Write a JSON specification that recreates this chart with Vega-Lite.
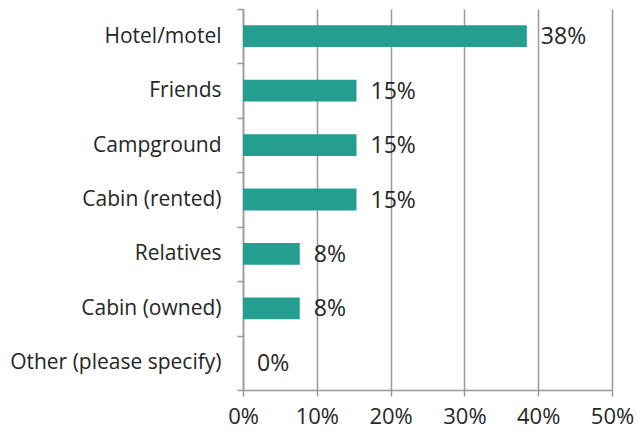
{
  "$schema": "https://vega.github.io/schema/vega-lite/v6.json",
  "width": 369,
  "height": 381,
  "autosize": {"type": "none"},
  "padding": {"left": 243, "top": 9, "right": 24, "bottom": 43},
  "background": "white",
  "config": {
    "view": {"stroke": null},
    "font": "Open Sans",
    "axis": {"labelFont": "Open Sans", "labelColor": "#262626", "labelFontSize": 21, "domainColor": "#999999", "tickColor": "#999999", "domainWidth": 1.5, "tickWidth": 1.5}
  },
  "data": {
    "values": [
      {"place": "Hotel/motel", "pct": 0.3846},
      {"place": "Friends", "pct": 0.1538},
      {"place": "Campground", "pct": 0.1538},
      {"place": "Cabin (rented)", "pct": 0.1538},
      {"place": "Relatives", "pct": 0.0769},
      {"place": "Cabin (owned)", "pct": 0.0769},
      {"place": "Other (please specify)", "pct": 0}
    ]
  },
  "encoding": {
    "y": {
      "field": "place", "type": "nominal", "sort": null, "title": null,
      "scale": {"paddingInner": 0, "paddingOuter": 0},
      "axis": {"tickBand": "extent", "tickSize": 6, "labelPadding": 16, "grid": false, "labelLimit": 400}
    },
    "x": {
      "field": "pct", "type": "quantitative", "title": null,
      "scale": {"domain": [0, 0.5], "nice": false},
      "axis": {"format": ".0%", "values": [0, 0.1, 0.2, 0.3, 0.4, 0.5], "tickSize": 6, "labelPadding": 10, "labelFontSize": 22, "grid": true, "gridColor": "#999999", "gridWidth": 1.5, "labelFlush": false}
    }
  },
  "layer": [
    {"mark": {"type": "bar", "color": "#239E91", "height": {"band": 0.4}}},
    {"mark": {"type": "text", "align": "left", "baseline": "middle", "dx": 14, "dy": 1, "fontSize": 23, "color": "#262626", "font": "Open Sans"},
     "encoding": {"text": {"field": "pct", "type": "quantitative", "format": ".0%"}}}
  ]
}
